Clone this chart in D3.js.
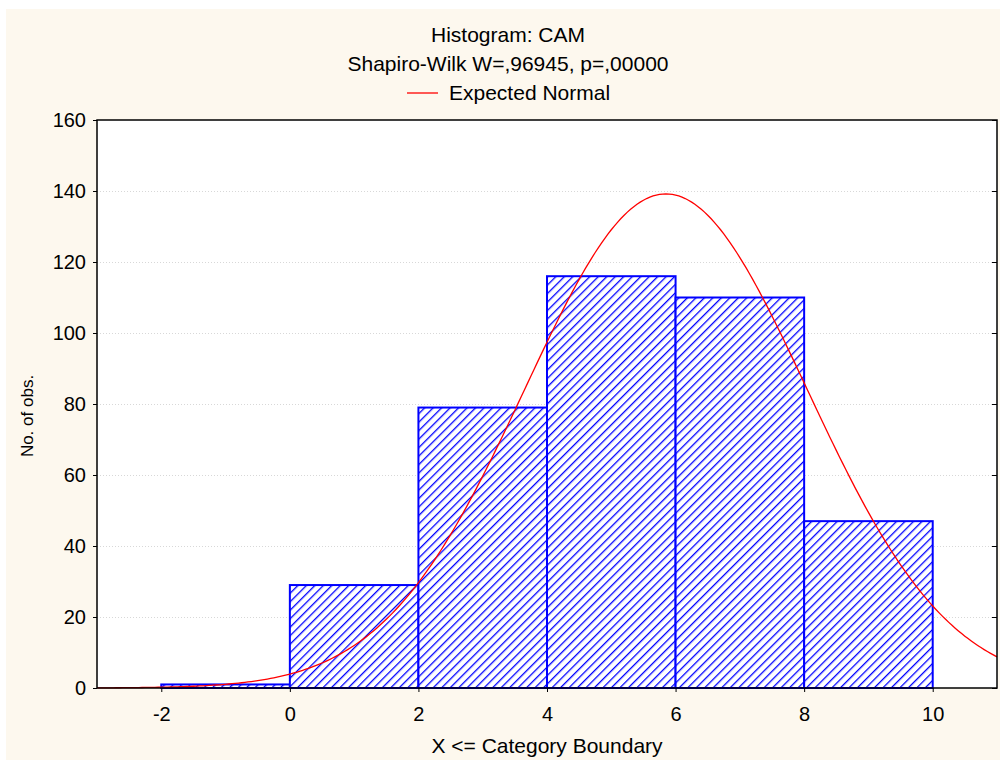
<!DOCTYPE html>
<html>
<head>
<meta charset="utf-8">
<script src="https://cdn.jsdelivr.net/npm/d3@7"></script>
<style>
  body { margin: 0; background: #fff; }
  text { font-family: "Liberation Sans", Arial, sans-serif; }
</style>
</head>
<body>
<svg id="chart" width="1000" height="760"></svg>
<script>
// bins (upper boundary) and counts
var binStarts = [-2, 0, 2, 4, 6, 8];
var binWidth = 2;
var counts = [1, 29, 79, 116, 110, 47];
var xTicks = [-2, 0, 2, 4, 6, 8, 10];
var yTicks = [0, 20, 40, 60, 80, 100, 120, 140, 160];
// expected normal fit (estimated from the curve)
var normMean = 5.85;
var normSd = 2.19;

var fs = 20;
var svg = d3.select("#chart");
var margin = {left: 97, top: 120, right: 997, bottom: 688};

svg.append("rect").attr("x", 6).attr("y", 9).attr("width", 994).attr("height", 751)
   .attr("fill", "#fdf8ee");

var x = d3.scaleLinear().domain([-3, 11]).range([margin.left, margin.right]);
var y = d3.scaleLinear().domain([0, 160]).range([margin.bottom, margin.top]);

var defs = svg.append("defs");
var pat = defs.append("pattern")
    .attr("id", "hatch")
    .attr("patternUnits", "userSpaceOnUse")
    .attr("width", 6).attr("height", 6)
    .attr("patternTransform", "rotate(45)");
pat.append("rect").attr("width", 6).attr("height", 6).attr("fill", "#fff");
pat.append("line").attr("x1", 0).attr("y1", 0).attr("x2", 0).attr("y2", 6)
   .attr("stroke", "#0000ff").attr("stroke-width", 2.6);

// plot area
svg.append("rect")
   .attr("x", margin.left).attr("y", margin.top)
   .attr("width", margin.right - margin.left).attr("height", margin.bottom - margin.top)
   .attr("fill", "#fff");

// grid
svg.append("g").selectAll("line").data(yTicks.slice(1, -1)).enter().append("line")
   .attr("x1", margin.left).attr("x2", margin.right)
   .attr("y1", function(d){ return y(d) + 0.5; }).attr("y2", function(d){ return y(d) + 0.5; })
   .attr("stroke", "#d8d8d8").attr("stroke-dasharray", "1,2");

// bars
var total = d3.sum(counts);
svg.append("g").selectAll("rect").data(counts).enter().append("rect")
   .attr("x", function(d, i){ return x(binStarts[i]); })
   .attr("y", function(d){ return y(d); })
   .attr("width", function(d, i){ return x(binStarts[i] + binWidth) - x(binStarts[i]); })
   .attr("height", function(d){ return y(0) - y(d); })
   .attr("fill", "url(#hatch)")
   .attr("stroke", "#0000ff").attr("stroke-width", 2);

// expected normal curve
var xs = d3.range(-3, 11.001, 0.05);
var line = d3.line()
    .x(function(d){ return x(d); })
    .y(function(d){
        var z = (d - normMean) / normSd;
        return y(total * binWidth * Math.exp(-0.5 * z * z) / (normSd * Math.sqrt(2 * Math.PI)));
    });
svg.append("path").datum(xs).attr("d", line)
   .attr("fill", "none").attr("stroke", "#ff0000").attr("stroke-width", 1.3);

// frame
svg.append("rect")
   .attr("x", margin.left).attr("y", margin.top)
   .attr("width", margin.right - margin.left).attr("height", margin.bottom - margin.top)
   .attr("fill", "none").attr("stroke", "#000").attr("stroke-width", 1.5);

// axes
var yAxis = d3.axisLeft(y).tickValues(yTicks).tickSize(4).tickPadding(7)
    .tickFormat(function(d){ return String(d); });
var gy = svg.append("g").attr("transform", "translate(" + margin.left + ",0)").call(yAxis);
var xAxis = d3.axisBottom(x).tickValues(xTicks).tickSize(4).tickPadding(15)
    .tickFormat(function(d){ return String(d); });
var gx = svg.append("g").attr("transform", "translate(0," + margin.bottom + ")").call(xAxis);
svg.append("g").attr("transform", "translate(" + margin.right + ",0)")
   .call(d3.axisLeft(y).tickValues(yTicks).tickSize(5).tickFormat(""));
[gy, gx].forEach(function(g){
    g.selectAll("text").attr("font-size", fs).attr("fill", "#000")
     .style("font-family", "Liberation Sans, Arial, sans-serif");
});
svg.selectAll(".tick line").attr("stroke", "#000");
svg.selectAll(".domain").remove();

// titles
svg.append("text").attr("x", 508).attr("y", 42).attr("text-anchor", "middle")
   .attr("font-size", 21).text("Histogram: CAM");
svg.append("text").attr("x", 508).attr("y", 71).attr("text-anchor", "middle")
   .attr("font-size", 21).text("Shapiro-Wilk W=,96945, p=,00000");
svg.append("line").attr("x1", 407).attr("x2", 438).attr("y1", 93).attr("y2", 93)
   .attr("stroke", "#ff0000").attr("stroke-width", 1.3);
svg.append("text").attr("x", 449).attr("y", 100).attr("font-size", 21).text("Expected Normal");

svg.append("text").attr("x", (margin.left + margin.right) / 2).attr("y", 753)
   .attr("text-anchor", "middle").attr("font-size", 21).text("X <= Category Boundary");
svg.append("text").attr("transform", "translate(33,416) rotate(-90)")
   .attr("text-anchor", "middle").attr("font-size", 17).text("No. of obs.");
</script>
</body>
</html>
